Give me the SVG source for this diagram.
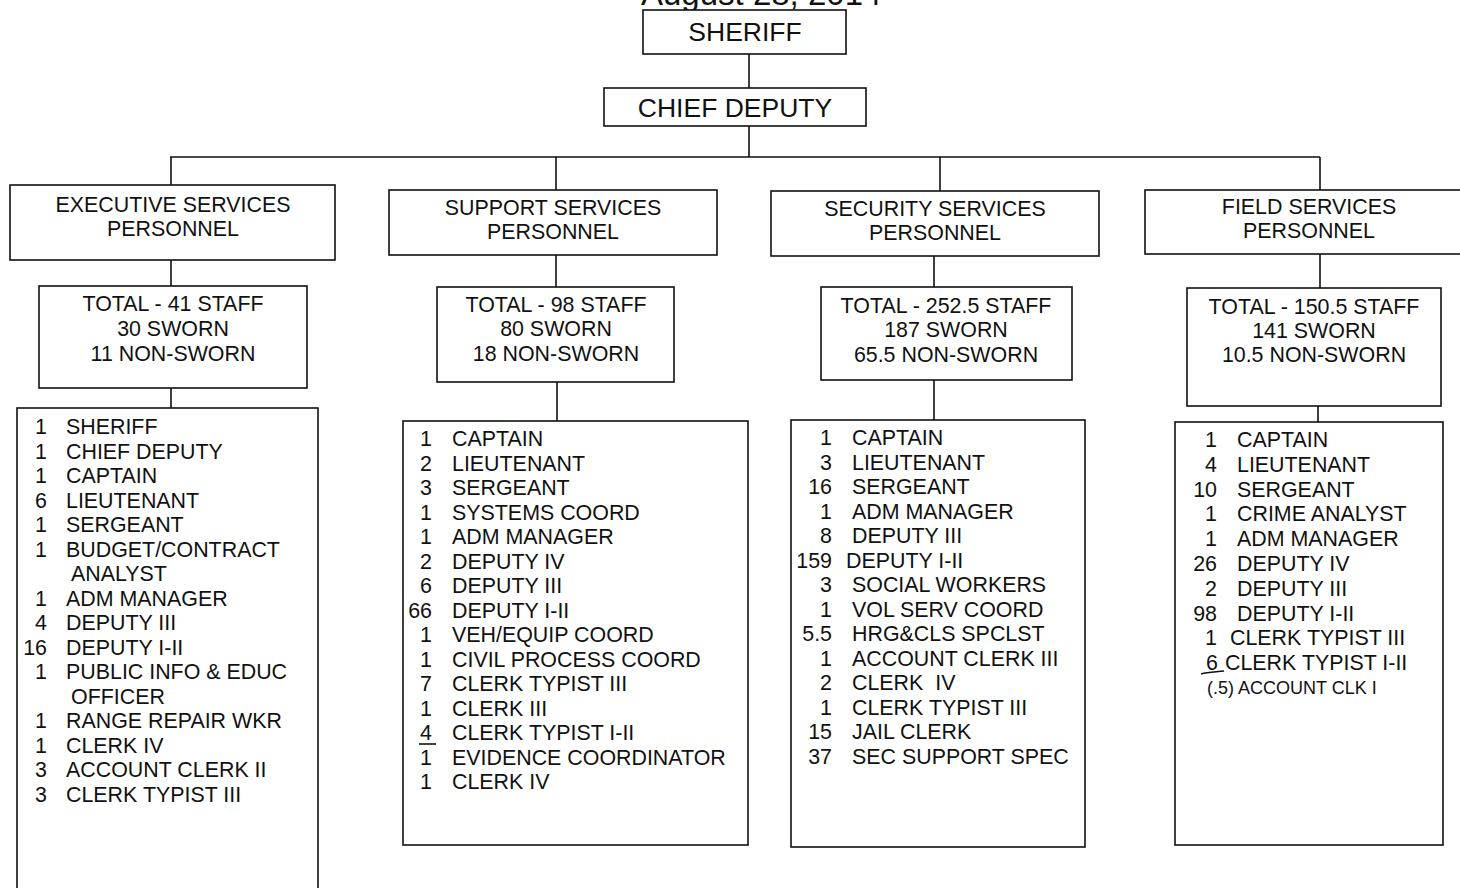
<svg xmlns="http://www.w3.org/2000/svg" width="1460" height="888" viewBox="0 0 1460 888">
<style>
.box{fill:#fff;stroke:#111;stroke-width:1.6}
.ln{stroke:#111;stroke-width:1.6;fill:none}
text{font-family:"Liberation Sans",Arial,sans-serif;fill:#111}
.t{font-size:26.5px;text-anchor:middle}
.h{font-size:21.4px;text-anchor:middle}
.n{font-size:21.4px;text-anchor:end}
.l{font-size:21.4px}
</style>
<rect width="1460" height="888" fill="#fff"/>
<text x="641" y="5" style="font-size:33px">August 28, 2014</text>
<g id="connectors">
<path class="ln" d="M749 54V88M749 126V157M170 157H1320M171 157V185M556 157V190M940 157V191M1320 157V190"/>
<path class="ln" d="M171 260V286M171 388V408M556 255V287M557 382V421M934 256V287M934 380V420M1320 254V288M1318 406V422"/>
</g>
<g id="sheriff"><rect class="box" x="643" y="10" width="203" height="44"/><text class="t" x="745" y="41">SHERIFF</text></g>
<g id="chief-deputy"><rect class="box" x="604" y="88" width="262" height="38"/><text class="t" x="735" y="117">CHIEF DEPUTY</text></g>

<g id="exec-services"><rect class="box" x="10" y="185" width="325" height="75"/><text class="h" x="173" y="212">EXECUTIVE SERVICES</text><text class="h" x="173" y="236">PERSONNEL</text></g>
<g id="support-services"><rect class="box" x="389" y="190" width="328" height="65"/><text class="h" x="553" y="215">SUPPORT SERVICES</text><text class="h" x="553" y="239">PERSONNEL</text></g>
<g id="security-services"><rect class="box" x="771" y="191" width="328" height="65"/><text class="h" x="935" y="216">SECURITY SERVICES</text><text class="h" x="935" y="240">PERSONNEL</text></g>
<g id="field-services"><rect class="box" x="1145" y="190" width="320" height="64"/><text class="h" x="1309" y="214">FIELD SERVICES</text><text class="h" x="1309" y="238">PERSONNEL</text></g>

<g id="exec-total"><rect class="box" x="39" y="286" width="268" height="102"/><text class="h" x="173" y="311">TOTAL - 41 STAFF</text><text class="h" x="173" y="336">30 SWORN</text><text class="h" x="173" y="361">11 NON-SWORN</text></g>
<g id="support-total"><rect class="box" x="437" y="287" width="237" height="95"/><text class="h" x="556" y="312">TOTAL - 98 STAFF</text><text class="h" x="556" y="336">80 SWORN</text><text class="h" x="556" y="361">18 NON-SWORN</text></g>
<g id="security-total"><rect class="box" x="821" y="287" width="251" height="93"/><text class="h" x="946" y="313">TOTAL - 252.5 STAFF</text><text class="h" x="946" y="337">187 SWORN</text><text class="h" x="946" y="362">65.5 NON-SWORN</text></g>
<g id="field-total"><rect class="box" x="1187" y="288" width="254" height="118"/><text class="h" x="1314" y="314">TOTAL - 150.5 STAFF</text><text class="h" x="1314" y="338">141 SWORN</text><text class="h" x="1314" y="362">10.5 NON-SWORN</text></g>

<g id="exec-list"><rect class="box" x="17" y="408" width="301" height="490"/>
<text class="n" x="47" y="434">1</text><text class="l" x="66" y="434">SHERIFF</text>
<text class="n" x="47" y="458.5">1</text><text class="l" x="66" y="458.5">CHIEF DEPUTY</text>
<text class="n" x="47" y="483">1</text><text class="l" x="66" y="483">CAPTAIN</text>
<text class="n" x="47" y="507.5">6</text><text class="l" x="66" y="507.5">LIEUTENANT</text>
<text class="n" x="47" y="532">1</text><text class="l" x="66" y="532">SERGEANT</text>
<text class="n" x="47" y="556.5">1</text><text class="l" x="66" y="556.5">BUDGET/CONTRACT</text>
<text class="l" x="71" y="581">ANALYST</text>
<text class="n" x="47" y="605.5">1</text><text class="l" x="66" y="605.5">ADM MANAGER</text>
<text class="n" x="47" y="630">4</text><text class="l" x="66" y="630">DEPUTY III</text>
<text class="n" x="47" y="654.5">16</text><text class="l" x="66" y="654.5">DEPUTY I-II</text>
<text class="n" x="47" y="679">1</text><text class="l" x="66" y="679">PUBLIC INFO &amp; EDUC</text>
<text class="l" x="71" y="703.5">OFFICER</text>
<text class="n" x="47" y="728">1</text><text class="l" x="66" y="728">RANGE REPAIR WKR</text>
<text class="n" x="47" y="752.5">1</text><text class="l" x="66" y="752.5">CLERK IV</text>
<text class="n" x="47" y="777">3</text><text class="l" x="66" y="777">ACCOUNT CLERK II</text>
<text class="n" x="47" y="801.5">3</text><text class="l" x="66" y="801.5">CLERK TYPIST III</text>
</g>

<g id="support-list"><rect class="box" x="403" y="421" width="345" height="424"/>
<text class="n" x="432" y="446">1</text><text class="l" x="452" y="446">CAPTAIN</text>
<text class="n" x="432" y="470.5">2</text><text class="l" x="452" y="470.5">LIEUTENANT</text>
<text class="n" x="432" y="495">3</text><text class="l" x="452" y="495">SERGEANT</text>
<text class="n" x="432" y="519.5">1</text><text class="l" x="452" y="519.5">SYSTEMS COORD</text>
<text class="n" x="432" y="544">1</text><text class="l" x="452" y="544">ADM MANAGER</text>
<text class="n" x="432" y="568.5">2</text><text class="l" x="452" y="568.5">DEPUTY IV</text>
<text class="n" x="432" y="593">6</text><text class="l" x="452" y="593">DEPUTY III</text>
<text class="n" x="432" y="617.5">66</text><text class="l" x="452" y="617.5">DEPUTY I-II</text>
<text class="n" x="432" y="642">1</text><text class="l" x="452" y="642">VEH/EQUIP COORD</text>
<text class="n" x="432" y="666.5">1</text><text class="l" x="452" y="666.5">CIVIL PROCESS COORD</text>
<text class="n" x="432" y="691">7</text><text class="l" x="452" y="691">CLERK TYPIST III</text>
<text class="n" x="432" y="715.5">1</text><text class="l" x="452" y="715.5">CLERK III</text>
<text class="n" x="432" y="740">4</text><text class="l" x="452" y="740">CLERK TYPIST I-II</text>
<text class="n" x="432" y="764.5">1</text><text class="l" x="452" y="764.5">EVIDENCE COORDINATOR</text>
<text class="n" x="432" y="789">1</text><text class="l" x="452" y="789">CLERK IV</text>
<path class="ln" d="M419 744H436" stroke-width="1.2"/>
</g>

<g id="security-list"><rect class="box" x="791" y="420" width="294" height="427"/>
<text class="n" x="832" y="445">1</text><text class="l" x="852" y="445">CAPTAIN</text>
<text class="n" x="832" y="469.5">3</text><text class="l" x="852" y="469.5">LIEUTENANT</text>
<text class="n" x="832" y="494">16</text><text class="l" x="852" y="494">SERGEANT</text>
<text class="n" x="832" y="518.5">1</text><text class="l" x="852" y="518.5">ADM MANAGER</text>
<text class="n" x="832" y="543">8</text><text class="l" x="852" y="543">DEPUTY III</text>
<text class="n" x="832" y="567.5">159</text><text class="l" x="846" y="567.5">DEPUTY I-II</text>
<text class="n" x="832" y="592">3</text><text class="l" x="852" y="592">SOCIAL WORKERS</text>
<text class="n" x="832" y="616.5">1</text><text class="l" x="852" y="616.5">VOL SERV COORD</text>
<text class="n" x="832" y="641">5.5</text><text class="l" x="852" y="641">HRG&amp;CLS SPCLST</text>
<text class="n" x="832" y="665.5">1</text><text class="l" x="852" y="665.5">ACCOUNT CLERK III</text>
<text class="n" x="832" y="690">2</text><text class="l" x="852" y="690" style="white-space:pre">CLERK  IV</text>
<text class="n" x="832" y="714.5">1</text><text class="l" x="852" y="714.5">CLERK TYPIST III</text>
<text class="n" x="832" y="739">15</text><text class="l" x="852" y="739">JAIL CLERK</text>
<text class="n" x="832" y="763.5">37</text><text class="l" x="852" y="763.5">SEC SUPPORT SPEC</text>
</g>

<g id="field-list"><rect class="box" x="1175" y="422" width="268" height="423"/>
<text class="n" x="1217" y="447">1</text><text class="l" x="1237" y="447">CAPTAIN</text>
<text class="n" x="1217" y="471.8">4</text><text class="l" x="1237" y="471.8">LIEUTENANT</text>
<text class="n" x="1217" y="496.6">10</text><text class="l" x="1237" y="496.6">SERGEANT</text>
<text class="n" x="1217" y="521.4">1</text><text class="l" x="1237" y="521.4">CRIME ANALYST</text>
<text class="n" x="1217" y="546.2">1</text><text class="l" x="1237" y="546.2">ADM MANAGER</text>
<text class="n" x="1217" y="571">26</text><text class="l" x="1237" y="571">DEPUTY IV</text>
<text class="n" x="1217" y="595.8">2</text><text class="l" x="1237" y="595.8">DEPUTY III</text>
<text class="n" x="1217" y="620.6">98</text><text class="l" x="1237" y="620.6">DEPUTY I-II</text>
<text class="n" x="1217" y="645.4">1</text><text class="l" x="1230" y="645.4">CLERK TYPIST III</text>
<text class="n" x="1218" y="670.2">6</text><text class="l" x="1225" y="670.2">CLERK TYPIST I-II</text>
<path class="ln" d="M1201 674C1208 672 1216 672 1224 671" stroke-width="1.2"/>
<text class="l" x="1207" y="694" style="font-size:18px">(.5) ACCOUNT CLK I</text>
</g>
</svg>
